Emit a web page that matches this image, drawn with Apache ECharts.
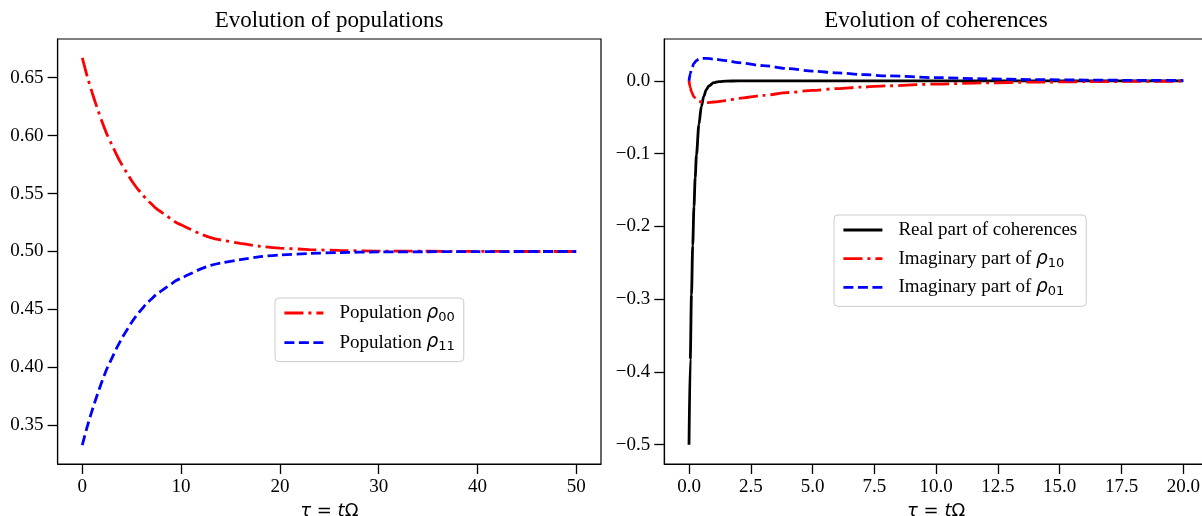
<!DOCTYPE html>
<html>
<head>
<meta charset="utf-8">
<script src="https://cdn.jsdelivr.net/npm/echarts@6/dist/echarts.min.js"></script>
<style>
  html, body { margin: 0; padding: 0; background: #fff; }
  #chart { width: 1202px; height: 516px; }
</style>
</head>
<body>
<div id="chart"></div>
<script>
// populations (left panel)
const popT = [0, 0.5, 1, 1.5, 2, 2.5, 3, 3.5, 4, 4.5, 5, 5.5, 6, 6.5, 7, 7.5, 8, 8.5, 9, 9.5, 10, 11, 12, 13, 14, 16, 18, 20, 23, 26, 30, 35, 40, 45, 50];
const rho00 = [0.667, 0.651, 0.637, 0.624, 0.612, 0.601, 0.592, 0.583, 0.575, 0.568, 0.561, 0.555, 0.550, 0.545, 0.541, 0.537, 0.534, 0.531, 0.528, 0.525, 0.523, 0.519, 0.515, 0.512, 0.510, 0.507, 0.5045, 0.503, 0.5017, 0.5009, 0.5004, 0.5002, 0.5001, 0.5, 0.5];
const rho11 = [0.333, 0.349, 0.363, 0.376, 0.388, 0.399, 0.408, 0.417, 0.425, 0.432, 0.439, 0.445, 0.450, 0.455, 0.459, 0.463, 0.466, 0.469, 0.472, 0.475, 0.477, 0.481, 0.485, 0.488, 0.490, 0.493, 0.4955, 0.497, 0.4983, 0.4991, 0.4996, 0.4998, 0.4999, 0.5, 0.5];

// coherences (right panel)
const reT = [0, 0.05, 0.1, 0.15, 0.2, 0.25, 0.3, 0.4, 0.5, 0.6, 0.7, 0.8, 1.0, 1.2, 1.5, 2, 3, 5, 10, 15, 20];
const reCoh = [-0.5, -0.383, -0.294, -0.226, -0.173, -0.133, -0.102, -0.060, -0.035, -0.021, -0.012, -0.007, -0.0025, -0.0009, -0.0002, 0, 0, 0, 0, 0, 0];
const imT = [0, 0.05, 0.1, 0.2, 0.3, 0.4, 0.5, 0.7, 1.0, 1.5, 2, 3, 4, 5, 6, 7, 8, 10, 12, 14, 16, 18, 20];
const im10 = [0, -0.009, -0.015, -0.022, -0.026, -0.028, -0.029, -0.030, -0.029, -0.027, -0.024, -0.020, -0.016, -0.013, -0.0105, -0.0085, -0.0068, -0.0043, -0.0027, -0.0017, -0.0011, -0.0007, -0.0004];
const im01 = [0, 0.010, 0.016, 0.024, 0.028, 0.030, 0.031, 0.031, 0.030, 0.028, 0.025, 0.021, 0.017, 0.0135, 0.011, 0.0088, 0.007, 0.0045, 0.0028, 0.0018, 0.0012, 0.0008, 0.0005];

// tick labels
const leftXTicks = [0, 10, 20, 30, 40, 50];
const leftYTicks = [0.35, 0.40, 0.45, 0.50, 0.55, 0.60, 0.65];
const rightXTicks = [0, 2.5, 5, 7.5, 10, 12.5, 15, 17.5, 20];
const rightYTicks = [-0.5, -0.4, -0.3, -0.2, -0.1, 0];

const SERIF = 'Liberation Serif';
const MATH = 'DejaVu Sans';
const DASHED = [10, 4.5];
const DASHDOT = [19, 5, 3, 5];
const LW = 2.8;
const FS = 19;

const zip = (xs, ys) => xs.map((x, i) => [x, ys[i]]);
const minus = v => (v < 0 ? '\u2212' : '') + Math.abs(v).toFixed(1);

const legendNames = {
  rho00: '{s|}{t|Population }{m|ρ}{sub|00}',
  rho11: '{s|}{t|Population }{m|ρ}{sub|11}',
  re: '{s|}{t|Real part of coherences}',
  im10: '{s|}{t|Imaginary part of }{m|ρ}{sub|10}',
  im01: '{s|}{t|Imaginary part of }{m|ρ}{sub|01}'
};

function legend(left, top, gap, names) {
  return {
    left: left, top: top, padding: [4, 9, 8, 8], itemGap: gap, data: names,
    orient: 'vertical',
    itemWidth: 39,
    itemHeight: 14,
    selectedMode: false,
    borderColor: '#cccccc',
    borderWidth: 1,
    borderRadius: 4,
    backgroundColor: 'rgba(255,255,255,0.8)',
    lineStyle: { width: LW },
    itemStyle: { color: 'rgba(0,0,0,0)', borderWidth: 0, opacity: 0 },
    formatter: name => legendNames[name],
    textStyle: {
      color: '#000', fontFamily: SERIF, fontSize: FS, lineHeight: 22,
      rich: {
        s: { width: 11 },
        t: { fontFamily: SERIF, fontSize: FS, lineHeight: 22, color: '#000' },
        m: { fontFamily: MATH, fontStyle: 'italic', fontSize: 18.5, lineHeight: 22, color: '#000' },
        sub: { fontFamily: MATH, fontSize: 13, lineHeight: 12, verticalAlign: 'bottom', color: '#000' }
      }
    }
  };
}

// ticks only at the listed values
const tickOf = ticks => ({ show: true, length: 10, customValues: ticks, lineStyle: { color: '#000', width: 1.3 } });

function xAxis(grid, min, max, ticks, fmt) {
  return {
    type: 'value', gridIndex: grid, min: min, max: max,
    name: '{i|τ} = {i|t}Ω', nameLocation: 'middle', nameGap: 36,
    nameTextStyle: {
      color: '#000', fontFamily: MATH, fontSize: 18,
      rich: { i: { fontFamily: MATH, fontStyle: 'italic', fontSize: 18, color: '#000' } }
    },
    axisLine: { show: true, onZero: false, lineStyle: { color: '#000', width: 1.2 } },
    axisTick: tickOf(ticks),
    axisLabel: { customValues: ticks, margin: 14, formatter: fmt, color: '#000', fontFamily: SERIF, fontSize: FS },
    splitLine: { show: false }
  };
}

function yAxis(grid, min, max, ticks, fmt) {
  return {
    type: 'value', gridIndex: grid, min: min, max: max,
    axisLine: { show: true, onZero: false, lineStyle: { color: '#000', width: 1.2 } },
    axisTick: tickOf(ticks),
    axisLabel: { customValues: ticks, margin: 14, formatter: fmt, color: '#000', fontFamily: SERIF, fontSize: FS },
    splitLine: { show: false }
  };
}

function line(name, xi, xs, ys, color, dash) {
  return {
    name: name, type: 'line', xAxisIndex: xi, yAxisIndex: xi,
    data: zip(xs, ys), symbol: 'none', showSymbol: false,
    smooth: 0.3, smoothMonotone: xi === 1 ? 'x' : null,
    lineStyle: { color: color, width: LW, type: dash },
    itemStyle: { color: color },
    z: 3
  };
}

const chart = echarts.init(document.getElementById('chart'));
chart.setOption({
  animation: false,
  backgroundColor: '#fff',
  title: [
    { text: 'Evolution of populations', left: 329, top: 9, textAlign: 'center', padding: 0,
      textStyle: { color: '#000', fontFamily: SERIF, fontSize: 23, fontWeight: 'normal' } },
    { text: 'Evolution of coherences', left: 936, top: 9, textAlign: 'center', padding: 0,
      textStyle: { color: '#000', fontFamily: SERIF, fontSize: 23, fontWeight: 'normal' } }
  ],
  grid: [
    { left: 57.6, top: 39, width: 543.4, height: 425, outerBoundsMode: 'none', containLabel: false,
      show: true, borderColor: '#000', borderWidth: 1.2, backgroundColor: 'transparent' },
    { left: 664.3, top: 39, width: 543.7, height: 425, outerBoundsMode: 'none', containLabel: false,
      show: true, borderColor: '#000', borderWidth: 1.2, backgroundColor: 'transparent' }
  ],
  xAxis: [
    xAxis(0, -2.5, 52.5, leftXTicks, v => String(v)),
    xAxis(1, -1, 21, rightXTicks, v => v.toFixed(1))
  ],
  yAxis: [
    yAxis(0, 0.316667, 0.683333, leftYTicks, v => v.toFixed(2)),
    yAxis(1, -0.5266, 0.0576, rightYTicks, minus)
  ],
  legend: [
    legend(275, 298, 7.6, ['rho00', 'rho11']),
    legend(834, 215, 6.7, ['re', 'im10', 'im01'])
  ],
  series: [
    line('rho00', 0, popT, rho00, '#ff0000', DASHDOT),
    line('rho11', 0, popT, rho11, '#0000ff', DASHED),
    line('re', 1, reT, reCoh, '#000000', 'solid'),
    line('im10', 1, imT, im10, '#ff0000', DASHDOT),
    line('im01', 1, imT, im01, '#0000ff', DASHED)
  ]
});
window.addEventListener('resize', () => chart.resize());
</script>
</body>
</html>
